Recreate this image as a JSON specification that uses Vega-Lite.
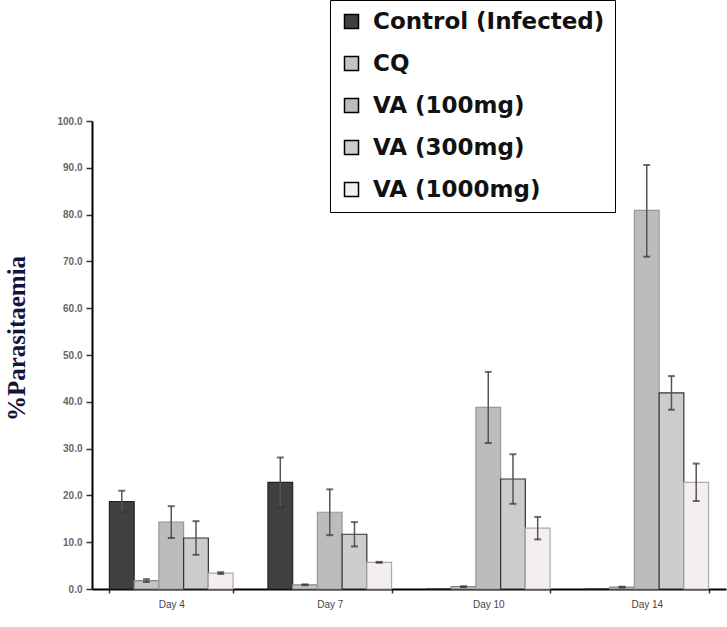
{
  "$schema": "https://vega.github.io/schema/vega-lite/v6.json",
  "width": 634,
  "height": 468,
  "autosize": {"type": "none"},
  "padding": {"left": 92, "top": 121, "right": 1, "bottom": 38},
  "background": "white",
  "config": {"view": {"stroke": null}},
  "data": {"values": [
    {"day": "Day 4", "group": "Control (Infected)", "value": 18.7, "lo": 16.4, "hi": 21.0},
    {"day": "Day 4", "group": "CQ", "value": 1.8, "lo": 1.5, "hi": 2.1},
    {"day": "Day 4", "group": "VA (100mg)", "value": 14.3, "lo": 10.9, "hi": 17.7},
    {"day": "Day 4", "group": "VA (300mg)", "value": 10.9, "lo": 7.3, "hi": 14.5},
    {"day": "Day 4", "group": "VA (1000mg)", "value": 3.4, "lo": 3.2, "hi": 3.6},
    {"day": "Day 7", "group": "Control (Infected)", "value": 22.8, "lo": 17.5, "hi": 28.1},
    {"day": "Day 7", "group": "CQ", "value": 0.9, "lo": 0.8, "hi": 1.0},
    {"day": "Day 7", "group": "VA (100mg)", "value": 16.4, "lo": 11.5, "hi": 21.3},
    {"day": "Day 7", "group": "VA (300mg)", "value": 11.7, "lo": 9.1, "hi": 14.3},
    {"day": "Day 7", "group": "VA (1000mg)", "value": 5.7, "lo": 5.6, "hi": 5.8},
    {"day": "Day 10", "group": "Control (Infected)", "value": 0, "lo": null, "hi": null},
    {"day": "Day 10", "group": "CQ", "value": 0.5, "lo": 0.4, "hi": 0.6},
    {"day": "Day 10", "group": "VA (100mg)", "value": 38.8, "lo": 31.2, "hi": 46.4},
    {"day": "Day 10", "group": "VA (300mg)", "value": 23.5, "lo": 18.2, "hi": 28.8},
    {"day": "Day 10", "group": "VA (1000mg)", "value": 13.0, "lo": 10.6, "hi": 15.4},
    {"day": "Day 14", "group": "Control (Infected)", "value": 0, "lo": null, "hi": null},
    {"day": "Day 14", "group": "CQ", "value": 0.4, "lo": 0.3, "hi": 0.5},
    {"day": "Day 14", "group": "VA (100mg)", "value": 80.9, "lo": 71.0, "hi": 90.6},
    {"day": "Day 14", "group": "VA (300mg)", "value": 41.9, "lo": 38.3, "hi": 45.5},
    {"day": "Day 14", "group": "VA (1000mg)", "value": 22.8, "lo": 18.8, "hi": 26.8}
  ]},
  "encoding": {
    "x": {
      "field": "day", "type": "nominal",
      "sort": ["Day 4", "Day 7", "Day 10", "Day 14"],
      "scale": {"paddingInner": 0.22, "paddingOuter": 0.11},
      "axis": {
        "title": null, "labelAngle": 0, "tickBand": "extent",
        "domainColor": "black", "domainWidth": 2,
        "tickColor": "#333", "tickSize": 4, "tickWidth": 1.5,
        "labelFont": "Liberation Sans", "labelFontSize": 10, "labelColor": "#444",
        "labelPadding": 6
      }
    },
    "xOffset": {
      "field": "group", "type": "nominal",
      "sort": ["Control (Infected)", "CQ", "VA (100mg)", "VA (300mg)", "VA (1000mg)"],
      "scale": {"paddingInner": 0, "paddingOuter": 0}
    }
  },
  "layer": [
    {
      "mark": {"type": "bar", "strokeWidth": 1.2},
      "encoding": {
        "y": {
          "field": "value", "type": "quantitative",
          "scale": {"domain": [0, 100], "nice": false},
          "axis": {
            "title": "%Parasitaemia", "values": [0, 10, 20, 30, 40, 50, 60, 70, 80, 90, 100],
            "format": ".1f", "grid": false,
            "domainColor": "black", "domainWidth": 2,
            "tickColor": "#333", "tickSize": 6, "tickWidth": 1.5,
            "labelFont": "Liberation Sans", "labelFontSize": 10, "labelFontWeight": "bold",
            "labelColor": "#666", "labelPadding": 4,
            "titleFont": "Liberation Serif", "titleFontSize": 25, "titleFontWeight": "bold",
            "titleColor": "#14143c", "titleX": -76, "titleY": 217, "titleAngle": -90, "titleAlign": "center", "titleBaseline": "middle"
          }
        },
        "fill": {
          "field": "group", "type": "nominal",
          "sort": ["Control (Infected)", "CQ", "VA (100mg)", "VA (300mg)", "VA (1000mg)"],
          "scale": {"range": ["#404040", "#c4c4c4", "#bcbcbc", "#cccccc", "#f4eef2"]},
          "legend": {
            "title": null, "orient": "none", "legendX": 238, "legendY": -121,
            "direction": "vertical",
            "strokeColor": "black", "fillColor": "white",
            "padding": 10, "rowPadding": 18,
            "symbolType": "square", "symbolSize": 196, "symbolStrokeColor": "black", "symbolStrokeWidth": 1.5, "symbolOpacity": 1,
            "labelFont": "DejaVu Sans", "labelFontSize": 23, "labelFontWeight": "bold",
            "labelColor": "#111", "labelOffset": 10, "labelLimit": 400
          }
        },
        "stroke": {
          "field": "group", "type": "nominal",
          "sort": ["Control (Infected)", "CQ", "VA (100mg)", "VA (300mg)", "VA (1000mg)"],
          "scale": {"range": ["#222222", "#888888", "#999999", "#333333", "#aaaaaa"]},
          "legend": null
        }
      }
    },
    {
      "transform": [{"filter": "datum.hi != null"}],
      "mark": {"type": "rule", "color": "#555", "strokeWidth": 1.5},
      "encoding": {
        "y": {"field": "lo", "type": "quantitative"},
        "y2": {"field": "hi"}
      }
    },
    {
      "transform": [{"filter": "datum.hi != null"}],
      "mark": {"type": "tick", "color": "#333", "size": 7, "thickness": 2},
      "encoding": {
        "y": {"field": "hi", "type": "quantitative"}
      }
    },
    {
      "transform": [{"filter": "datum.hi != null"}],
      "mark": {"type": "tick", "color": "#333", "size": 7, "thickness": 2},
      "encoding": {
        "y": {"field": "lo", "type": "quantitative"}
      }
    }
  ]
}
